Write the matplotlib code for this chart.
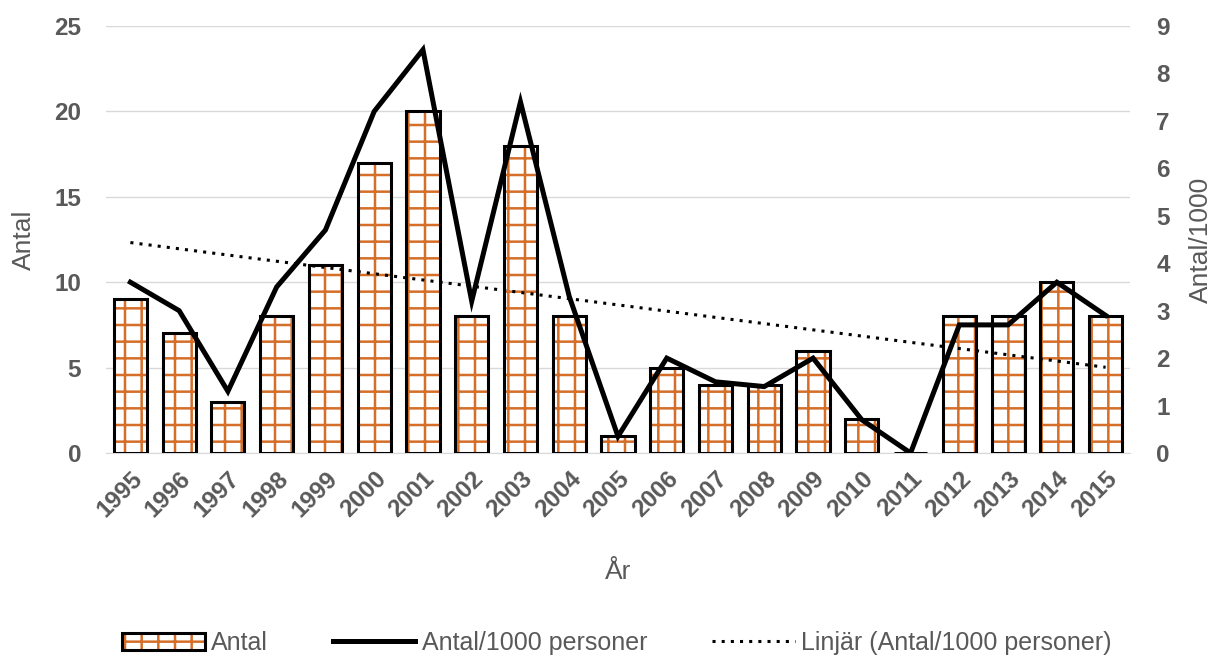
import matplotlib.pyplot as plt
import numpy as np
from matplotlib.patches import Patch
from matplotlib.lines import Line2D
from matplotlib.legend_handler import HandlerTuple

years = [str(y) for y in range(1995, 2016)]
antal = [9, 7, 3, 8, 11, 17, 20, 8, 18, 8, 1, 5, 4, 4, 6, 2, 0, 8, 8, 10, 8]
per1000 = [3.6, 3.0, 1.3, 3.5, 4.7, 7.2, 8.5, 3.2, 7.4, 3.3, 0.35,
           2.0, 1.5, 1.4, 2.0, 0.7, 0.0, 2.7, 2.7, 3.6, 2.9]

grey = '#595959'
orange = '#D46E28'
plt.rcParams['font.family'] = ['Liberation Sans', 'DejaVu Sans']
plt.rcParams['hatch.linewidth'] = 1.8

fig = plt.figure(figsize=(12.14, 6.58), dpi=100)
ax = fig.add_axes([106/1214, 1-453/658, 1024/1214, 427/658])
ax2 = ax.twinx()

x = np.arange(len(years))
ax.bar(x, antal, width=0.68, facecolor='white', edgecolor=orange, hatch='+', linewidth=0, zorder=2)
ax.bar(x, antal, width=0.68, fill=False, edgecolor='black', linewidth=2.2, zorder=3)

ax2.plot(x, per1000, color='black', lw=3.6, solid_joinstyle='miter', zorder=4)
k, m = np.polyfit(x, per1000, 1)
ax2.plot(x[[0, -1]], k*x[[0, -1]] + m, color='black', lw=2.2, ls=(0, (1, 2)), zorder=4)

ax.set_xlim(-0.5, len(years) - 0.5)
ax.set_ylim(0, 25)
ax.set_yticks(range(0, 26, 5))
ax2.set_ylim(0, 9)
ax2.set_yticks(range(0, 10))
ax.grid(axis='y', color='#D9D9D9', lw=1, zorder=0)
ax.set_axisbelow(True)

for a in (ax, ax2):
    for s in a.spines.values():
        s.set_visible(False)
    a.tick_params(length=0, colors=grey, labelsize=17.5)
    for lab in a.get_yticklabels():
        lab.set_fontweight('bold')
ax.spines['bottom'].set_visible(True)
ax.spines['bottom'].set_color('#D9D9D9')

ax.set_xticks(x)
ax.set_xticklabels(years, rotation=45, ha='right', rotation_mode='anchor', fontweight='bold')
ax.tick_params(axis='x', pad=10)
ax.tick_params(axis='y', pad=18)
ax2.tick_params(axis='y', pad=19)

ax.set_xlabel('År', color=grey, fontsize=19, labelpad=28)
ax.set_ylabel('Antal', color=grey, fontsize=19, labelpad=13)
ax2.set_ylabel('Antal/1000', color=grey, fontsize=19, labelpad=14)

h_bar = (Patch(facecolor='white', edgecolor=orange, hatch='+', linewidth=0),
         Patch(fill=False, edgecolor='black', linewidth=2.2))
h_line = Line2D([], [], color='black', lw=3.6)
h_trend = Line2D([], [], color='black', lw=2.2, ls=(0, (1, 2)))
fig.legend([h_bar, h_line, h_trend], ['Antal', 'Antal/1000 personer', 'Linjär (Antal/1000 personer)'],
           handler_map={tuple: HandlerTuple(ndivide=1, pad=0)},
           loc='center', bbox_to_anchor=(0.508, 1-643/658), ncol=3, frameon=False,
           fontsize=18, labelcolor=grey, handlelength=3.3, handletextpad=0.25, columnspacing=2.6)

fig.savefig('out.png', dpi=100)
